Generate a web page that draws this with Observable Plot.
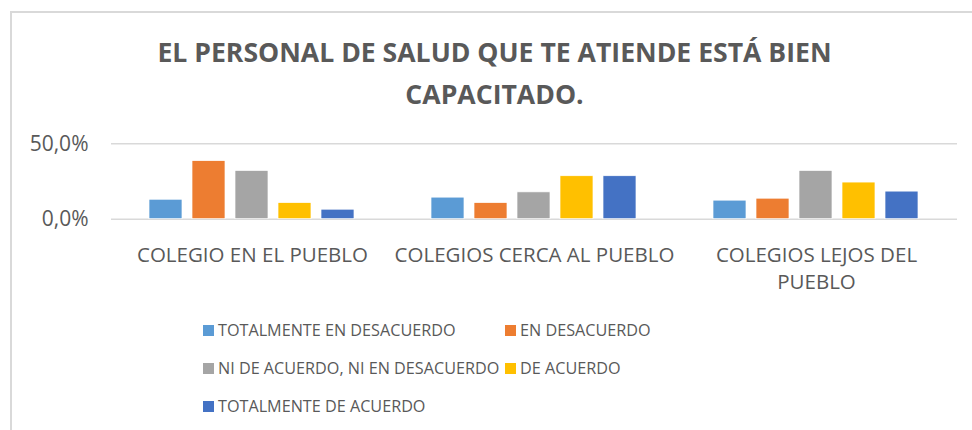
<!DOCTYPE html>
<html>
<head>
<meta charset="utf-8">
<script src="https://cdn.jsdelivr.net/npm/d3@7"></script>
<script src="https://cdn.jsdelivr.net/npm/@observablehq/plot@0.6"></script>
<style>
  html, body { margin: 0; padding: 0; background: #fff; }
  #wrap { position: relative; width: 972px; height: 430px; overflow: hidden; font-family: "Open Sans", sans-serif; color: #595959; }
  #frame { position: absolute; left: 10px; top: 11px; width: 1000px; height: 500px; border-top: 2px solid #d9d9d9; border-left: 2px solid #d9d9d9; }
  #title { position: absolute; left: 0; top: 31px; width: 989px; text-align: center; font-weight: 700; font-size: 26.6px; line-height: 42px; color: #595959; }
  #chart { position: absolute; left: 0; top: 120px; }
  #legend { position: absolute; left: 203px; top: 311px; display: grid; grid-template-columns: 302px auto; font-size: 16.2px; line-height: 38px; }
  .item { display: flex; align-items: center; white-space: nowrap; }
  .sw { width: 11px; height: 11px; margin-right: 4px; flex: none; }
</style>
</head>
<body>
<div id="wrap">
  <div id="frame"></div>
  <div id="title"></div>
  <div id="chart"></div>
  <div id="legend"></div>
</div>
<script>
const titleLines = ["EL PERSONAL DE SALUD QUE TE ATIENDE ESTÁ BIEN", "CAPACITADO."];
const categories = ["COLEGIO EN EL PUEBLO", "COLEGIOS CERCA AL PUEBLO", "COLEGIOS LEJOS DEL PUEBLO"];
const categoryLabels = ["COLEGIO EN EL PUEBLO", "COLEGIOS CERCA AL PUEBLO", "COLEGIOS LEJOS DEL\nPUEBLO"];
const series = ["TOTALMENTE EN DESACUERDO", "EN DESACUERDO", "NI DE ACUERDO, NI EN DESACUERDO", "DE ACUERDO", "TOTALMENTE DE ACUERDO"];
const colors = ["#5B9BD5", "#ED7D31", "#A5A5A5", "#FFC000", "#4472C4"];
const totalmenteEnDesacuerdo = [12.9, 14.3, 12.3];
const enDesacuerdo = [38.5, 10.7, 13.6];
const niDeAcuerdoNiEnDesacuerdo = [32.0, 17.8, 32.0];
const deAcuerdo = [10.7, 28.5, 24.3];
const totalmenteDeAcuerdo = [6.3, 28.5, 18.3];
const yTicks = [0, 50];

const seriesValues = [totalmenteEnDesacuerdo, enDesacuerdo, niDeAcuerdoNiEnDesacuerdo, deAcuerdo, totalmenteDeAcuerdo];
const data = categories.flatMap((c, i) => series.map((s, j) => ({category: c, series: s, value: seriesValues[j][i]})));
const labelOf = new Map(categories.map((c, i) => [c, categoryLabels[i]]));
const fmt = d => d.toFixed(1).replace(".", ",") + "%";

document.getElementById("title").innerHTML = titleLines.map(t => `<div>${t}</div>`).join("");

const chart = Plot.plot({
  width: 972,
  height: 180,
  marginTop: 23.3,
  marginBottom: 81.3,
  marginLeft: 110,
  marginRight: 15,
  style: {fontFamily: "Open Sans", color: "#595959", background: "transparent", overflow: "visible"},
  fx: {domain: categories, padding: 0, label: null, axis: null},
  x: {domain: series, paddingInner: 0.227, paddingOuter: 0.822, axis: null},
  y: {domain: [0, 50], axis: null},
  color: {domain: series, range: colors},
  marks: [
    Plot.ruleY(yTicks, {stroke: "#d9d9d9", strokeWidth: 1.5}),
    Plot.barY(data, {fx: "category", x: "series", y: "value", fill: "series", stroke: "white", strokeWidth: 0.7}),
    Plot.axisY(yTicks, {tickSize: 0, tickPadding: 23, tickFormat: fmt, fontSize: 21, label: null}),
    Plot.axisFx({anchor: "bottom", tickSize: 0, tickPadding: 23, fontSize: 20.5, lineHeight: 1.34, tickFormat: d => labelOf.get(d), label: null})
  ]
});
document.getElementById("chart").appendChild(chart);

const legend = document.getElementById("legend");
series.forEach((s, i) => {
  const it = document.createElement("div");
  it.className = "item";
  it.innerHTML = `<span class="sw" style="background:${colors[i]}"></span><span>${s}</span>`;
  legend.appendChild(it);
});
</script>
</body>
</html>
